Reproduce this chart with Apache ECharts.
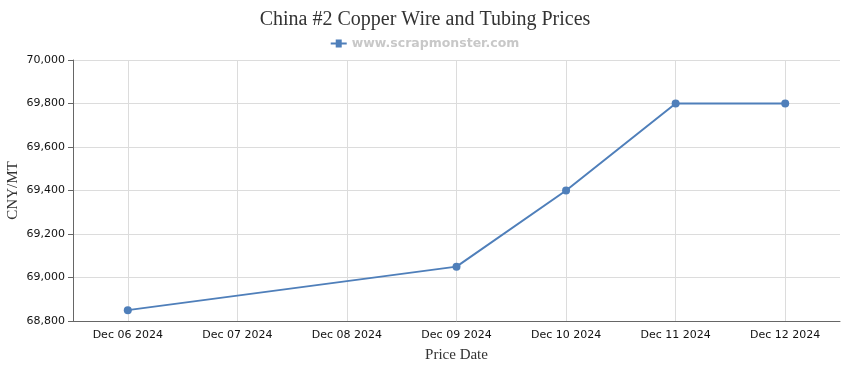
<!DOCTYPE html>
<html><head><meta charset="utf-8">
<script src="https://cdn.jsdelivr.net/npm/echarts@6/dist/echarts.min.js"></script>
<style>html,body{margin:0;padding:0;background:#fff}#c{width:850px;height:370px}</style>
</head><body><div id="c"></div>
<script>
const categories = ['Dec 06 2024','Dec 07 2024','Dec 08 2024','Dec 09 2024','Dec 10 2024','Dec 11 2024','Dec 12 2024'];
const prices = [68850, null, null, 69050, 69400, 69800, 69800];
const yTicks = {min: 68800, max: 70000, interval: 200};
const seriesName = 'www.scrapmonster.com';
const color = '#4f7fba';
const chart = echarts.init(document.getElementById('c'));
chart.setOption({
  animation: false,
  title: {text: 'China #2 Copper Wire and Tubing Prices', left: 'center', top: 5,
    textStyle: {fontFamily: 'Liberation Serif', fontSize: 20, fontWeight: 'normal', color: '#333'}},
  legend: {top: 32, left: 'center', itemWidth: 16, itemHeight: 8, itemGap: 5,
    data: [{name: seriesName, icon: 'path://M0,3L5,3L5,0L11,0L11,3L16,3L16,5L11,5L11,8L5,8L5,5L0,5Z'}],
    textStyle: {fontFamily: 'DejaVu Sans', fontSize: 12.5, fontWeight: 'bold', color: '#c8c8c8'}},
  grid: {left: 73, right: 10, top: 60, bottom: 49, containLabel: false, outerBoundsMode: 'none'},
  xAxis: {type: 'category', data: categories, boundaryGap: true,
    name: 'Price Date', nameLocation: 'middle', nameGap: 27, nameMoveOverlap: false,
    nameTextStyle: {fontFamily: 'Liberation Serif', fontSize: 15, color: '#333'},
    axisLine: {lineStyle: {color: '#666'}},
    axisTick: {alignWithLabel: true, length: 5, lineStyle: {color: '#666'}},
    axisLabel: {fontFamily: 'DejaVu Sans', fontSize: 11, color: '#111', margin: 9},
    splitLine: {show: true, alignWithLabel: true, lineStyle: {color: '#dcdcdc'}}},
  yAxis: {type: 'value', min: yTicks.min, max: yTicks.max, interval: yTicks.interval,
    name: 'CNY/MT', nameLocation: 'middle', nameGap: 52, nameRotate: 90, nameMoveOverlap: false,
    nameTextStyle: {fontFamily: 'Liberation Serif', fontSize: 15, color: '#333'},
    axisLine: {show: true, lineStyle: {color: '#666'}},
    axisTick: {show: true, length: 5, lineStyle: {color: '#666'}},
    axisLabel: {fontFamily: 'DejaVu Sans', fontSize: 11, color: '#111', margin: 8,
      formatter: v => v.toLocaleString('en-US')},
    splitLine: {show: true, lineStyle: {color: '#dcdcdc'}}},
  series: [{name: seriesName, type: 'line', data: prices, connectNulls: true,
    symbol: 'circle', symbolSize: 8, itemStyle: {color: color},
    lineStyle: {color: color, width: 2}}]
});
</script></body></html>
